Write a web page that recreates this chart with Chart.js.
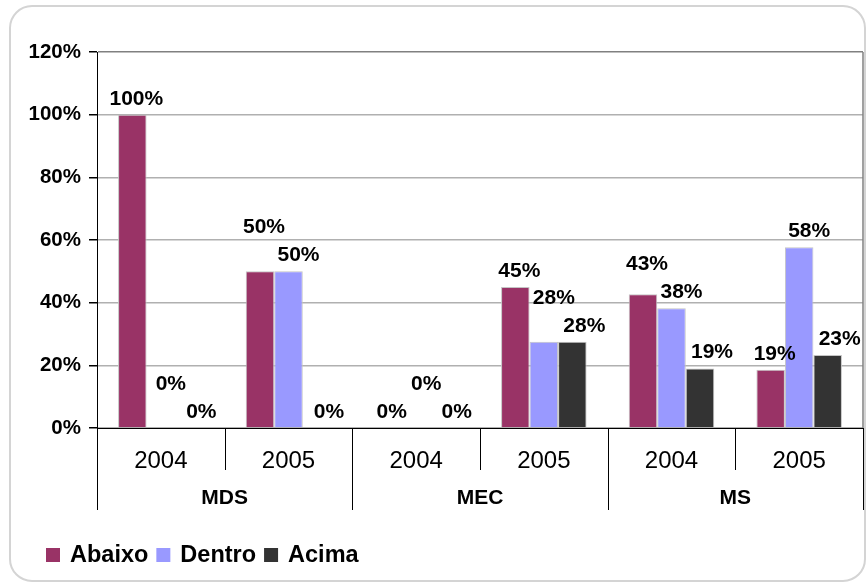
<!DOCTYPE html>
<html lang="pt-BR">
<head>
<meta charset="UTF-8">
<title>Abaixo / Dentro / Acima</title>
<script src="https://cdn.jsdelivr.net/npm/chart.js"></script>
<style>
  html, body { margin: 0; padding: 0; background: #fff; }
  #wrap { position: relative; width: 866px; height: 587px; }
</style>
</head>
<body>
<div id="wrap"><canvas id="grafico"></canvas></div>
<script>
// dados
const anos = ["2004", "2005", "2004", "2005", "2004", "2005"];
const orgaos = ["MDS", "MEC", "MS"];
const series = ["Abaixo", "Dentro", "Acima"];
const abaixo = [100, 50, 0, 45, 42.7, 18.6];
const dentro = [0, 50, 0, 27.5, 38.2, 57.7];
const acima = [0, 0, 0, 27.5, 19, 23.3];
const ticksY = [0, 20, 40, 60, 80, 100, 120];

const cores = ["#993366", "#9999ff", "#333333"];
const fonte = '"Liberation Sans", Arial, sans-serif';

// moldura arredondada em volta de tudo
const moldura = {
  id: "moldura",
  beforeDraw(chart) {
    const ctx = chart.ctx;
    ctx.save();
    ctx.strokeStyle = "#d4d4d4";
    ctx.lineWidth = 2;
    ctx.beginPath();
    ctx.roundRect(10, 6, 855, 575, 22);
    ctx.stroke();
    ctx.restore();
  }
};

// rótulos de valor acima das barras, empurrados para cima quando se sobrepõem
const rotulos = {
  id: "rotulos",
  afterDatasetsDraw(chart) {
    const ctx = chart.ctx;
    const desloc = [4, 10, 12];
    const altura = 15;
    const folga = 4;
    const passo = 28;
    ctx.save();
    ctx.font = "bold 21px " + fonte;
    ctx.fillStyle = "#000";
    ctx.textAlign = "center";
    ctx.textBaseline = "alphabetic";
    const nDs = chart.data.datasets.length;
    for (let j = 0; j < chart.data.labels.length; j++) {
      const colocados = [];
      for (let i = nDs - 1; i >= 0; i--) {
        const bar = chart.getDatasetMeta(i).data[j];
        const txt = Math.round(chart.data.datasets[i].data[j]) + "%";
        const w = ctx.measureText(txt).width + folga;
        const cx = bar.x + desloc[i];
        let base = bar.y - 10;
        let mexeu = true;
        while (mexeu) {
          mexeu = false;
          for (const o of colocados) {
            const cruzaX = cx - w / 2 < o.x + o.w / 2 && cx + w / 2 > o.x - o.w / 2;
            const cruzaY = base - altura < o.base && base > o.base - altura;
            if (cruzaX && cruzaY) {
              base = o.base - passo;
              mexeu = true;
            }
          }
        }
        colocados.push({ x: cx, w: w, base: base });
        ctx.fillText(txt, cx, base);
      }
    }
    ctx.restore();
  }
};

// separadores do eixo x, nomes dos órgãos, borda direita e legenda
const eixoX = {
  id: "eixoX",
  afterDraw(chart) {
    const ctx = chart.ctx;
    const x = chart.scales.x;
    const area = chart.chartArea;
    ctx.save();

    // borda direita da área de plotagem
    ctx.strokeStyle = "#808080";
    ctx.lineWidth = 1.5;
    ctx.beginPath();
    ctx.moveTo(area.right, area.top);
    ctx.lineTo(area.right, area.bottom);
    ctx.stroke();

    // separadores entre categorias
    ctx.strokeStyle = "#000";
    ctx.lineWidth = 1;
    for (let i = 0; i <= anos.length; i++) {
      const px = Math.round(x.getPixelForValue(i - 0.5)) + 0.5;
      const fim = i % 2 === 0 ? area.bottom + 82 : area.bottom + 42;
      ctx.beginPath();
      ctx.moveTo(px, area.bottom);
      ctx.lineTo(px, fim);
      ctx.stroke();
    }

    // nomes dos órgãos
    ctx.font = "bold 21px " + fonte;
    ctx.fillStyle = "#000";
    ctx.textAlign = "center";
    ctx.textBaseline = "middle";
    orgaos.forEach((nome, k) => {
      const cx = x.getPixelForValue(k * 2 + 0.5);
      ctx.fillText(nome, cx, area.bottom + 70);
    });

    // legenda
    ctx.font = "bold 23.5px " + fonte;
    ctx.textAlign = "left";
    ctx.textBaseline = "alphabetic";
    let lx = 46;
    series.forEach((nome, k) => {
      ctx.fillStyle = cores[k];
      ctx.fillRect(lx, 548, 14, 14);
      lx += 14 + 10;
      ctx.fillStyle = "#000";
      ctx.fillText(nome, lx, 562);
      lx += ctx.measureText(nome).width + 8;
    });

    ctx.restore();
  }
};

new Chart(document.getElementById("grafico"), {
  type: "bar",
  data: {
    labels: anos,
    datasets: [
      { label: series[0], data: abaixo, backgroundColor: cores[0] },
      { label: series[1], data: dentro, backgroundColor: cores[1] },
      { label: series[2], data: acima, backgroundColor: cores[2] }
    ]
  },
  options: {
    responsive: true,
    maintainAspectRatio: false,
    animation: false,
    layout: { padding: { top: 52, left: 29, right: 3, bottom: 77 } },
    datasets: {
      bar: {
        categoryPercentage: 0.67,
        barPercentage: 1,
        borderWidth: 1,
        borderColor: "#c4c4c4"
      }
    },
    plugins: {
      legend: { display: false },
      tooltip: { enabled: false }
    },
    scales: {
      x: {
        grid: { display: false, drawTicks: false },
        border: { color: "#000", width: 1 },
        ticks: {
          color: "#000",
          padding: 19,
          font: { family: fonte, size: 24 }
        },
        afterFit(scale) { scale.height = 82; }
      },
      y: {
        min: ticksY[0],
        max: ticksY[ticksY.length - 1],
        grid: {
          color: (c) => (c.tick && c.tick.value === ticksY[ticksY.length - 1] ? "#808080" : "#b0b0b0"),
          lineWidth: 1.5,
          tickColor: "#000",
          tickLength: 8
        },
        border: { color: "#000", width: 1 },
        ticks: {
          stepSize: ticksY[1] - ticksY[0],
          color: "#000",
          padding: 8,
          font: { family: fonte, size: 20.5, weight: "bold" },
          callback: (v) => v + "%"
        },
        afterFit(scale) { scale.width = 68; }
      }
    }
  },
  plugins: [moldura, rotulos, eixoX]
});
</script>
</body>
</html>
